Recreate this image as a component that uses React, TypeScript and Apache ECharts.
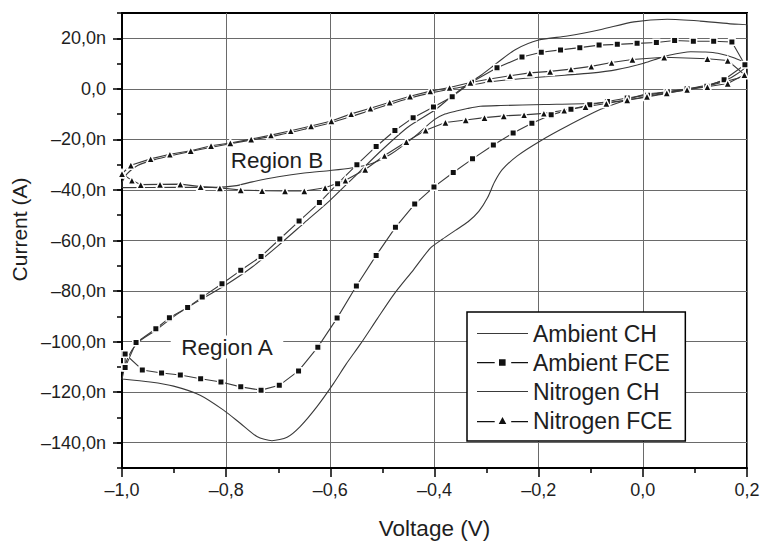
import React, { useEffect, useRef } from 'react';
import * as echarts from 'echarts';

// ---- axis ticks ----
const xMajorTicks = [-1.0, -0.8, -0.6, -0.4, -0.2, 0.0, 0.2];
const yMajorTicks = [-140, -120, -100, -80, -60, -40, -20, 0, 20];

// ---- series: Ambient CH (solid, no markers) ----
const ambientCHVoltage = [
  -1.0, -0.99, -0.97, -0.935, -0.9, -0.85, -0.8, -0.75, -0.7, -0.65, -0.6, -0.55, -0.5, -0.45, -0.4, -0.37,
  -0.337, -0.31, -0.28, -0.245, -0.2, -0.145, -0.08, -0.017, 0.047, 0.11, 0.176, 0.2,
  0.2, 0.17, 0.13, 0.08, 0.03, 0.003, -0.04, -0.081, -0.145, -0.196, -0.241, -0.27, -0.285, -0.298,
  -0.315, -0.335, -0.36, -0.385, -0.408, -0.44, -0.478, -0.51, -0.542, -0.57, -0.594, -0.626, -0.658, -0.683,
  -0.712, -0.741, -0.773, -0.805, -0.85, -0.901, -0.946, -1.0,
];
const ambientCHCurrent = [
  -114.8, -107, -100.5, -95.5, -90, -83.5, -77.5, -70.5, -62, -53, -44, -34, -24, -15, -8.5, -3.5,
  1.7, 5.5, 10.2, 15.5, 19.3, 20.9, 23.5, 26.5, 27.5, 26.8, 25.6, 25.2,
  10, 4.5, 1.8, -0.2, -1.6, -2.2, -5, -8.1, -14.7, -20.5, -26.5, -32, -37, -43,
  -48.5, -52.5, -56, -59.5, -63, -71.5, -81.3, -91, -100.9, -109, -116.6, -125.8, -133.6, -137.8,
  -139.2, -137.5, -132.3, -127.1, -121.2, -117.6, -116, -114.8,
];

// ---- series: Ambient FCE (squares) ----
const ambientFCEVoltage = [
  -0.994, -0.973, -0.935, -0.909, -0.874, -0.846, -0.808, -0.772, -0.733, -0.697, -0.66, -0.621, -0.586, -0.549,
  -0.512, -0.476, -0.441, -0.402, -0.366, -0.329, -0.28, -0.232, -0.195, -0.158, -0.121, -0.084, -0.049, -0.011,
  0.026, 0.061, 0.097, 0.136, 0.171,
  0.196, 0.156, 0.123, 0.085, 0.047, 0.009, -0.03, -0.068, -0.102, -0.138, -0.176, -0.213, -0.249, -0.287,
  -0.327, -0.364, -0.401, -0.438, -0.475, -0.512, -0.55, -0.587, -0.624, -0.661, -0.698, -0.733, -0.772, -0.81,
  -0.849, -0.888, -0.924, -0.961, -0.994, -0.994,
];
const ambientFCECurrent = [
  -110.2, -100.4, -94.9, -90.6, -86.5, -82.4, -77.1, -71.8, -66.3, -59.4, -52.3, -45, -37.5, -30,
  -22.8, -16.5, -11.4, -7.2, -3.1, 2.6, 8.3, 12.6, 14.5, 15.4, 16.3, 17.3, 17.6, 18.0,
  18.3, 19.1, 18.8, 18.8, 18.5,
  9.5, 3.6, 1.0, 0, -1.2, -2.5, -3.6, -5.0, -6.3, -8.1, -10.3, -13.6, -17.5, -22.2,
  -27.7, -33.1, -38.8, -45.6, -54.8, -65.9, -78, -90.7, -102.2, -111.6, -117.3, -119.2, -117.9, -116,
  -114.7, -113.2, -112.4, -111.2, -104.9, -110.2,
];

// ---- series: Nitrogen CH (solid, no markers) ----
const nitrogenCHVoltage = [
  -1.0, -0.99, -0.97, -0.94, -0.9, -0.85, -0.8, -0.75, -0.7, -0.65, -0.6, -0.55, -0.5, -0.45, -0.4, -0.35,
  -0.3, -0.25, -0.2, -0.15, -0.1, -0.05, 0.0, 0.022, 0.05, 0.092, 0.12, 0.144, 0.176, 0.2,
  0.2, 0.16, 0.12, 0.08, 0.04, 0.0, -0.06, -0.106, -0.19, -0.273, -0.312, -0.337, -0.356, -0.38, -0.401,
  -0.44, -0.485, -0.52, -0.56, -0.6, -0.65, -0.7, -0.75, -0.78, -0.82, -0.9, -1.0, -1.0,
];
const nitrogenCHCurrent = [
  -37, -33.5, -30.3, -28.2, -26.2, -24, -22, -20.2, -18.3, -16, -13.5, -10.3, -7, -3.8, -1.3, 0.6,
  2.6, 3.7, 4.6, 5.4, 6.2, 7.6, 10, 11.5, 13.3, 14.7, 14.6, 14.1, 12.2, 9.5,
  6, 3, 1, -0.5, -2, -3.5, -5.2, -5.8, -6.2, -6.6, -6.9, -7.8, -8.7, -10, -12.3,
  -19.2, -26, -29.5, -31.3, -32.3, -33.3, -34.8, -36.8, -38.3, -39, -39, -39.1, -37,
];

// ---- series: Nitrogen FCE (triangles) ----
const nitrogenFCEVoltage = [
  -1.0, -0.983, -0.945, -0.908, -0.868, -0.829, -0.792, -0.752, -0.714, -0.676, -0.637, -0.598, -0.56, -0.523,
  -0.486, -0.447, -0.408, -0.371, -0.331, -0.294, -0.255, -0.217, -0.178, -0.138, -0.099, -0.06, -0.02, 0.041,
  0.124, 0.163,
  0.195, 0.163, 0.124, 0.085, 0.046, 0.008, -0.03, -0.07, -0.11, -0.151, -0.19, -0.228, -0.267, -0.304, -0.34,
  -0.379, -0.417, -0.454, -0.496, -0.533, -0.571, -0.61, -0.65, -0.687, -0.731, -0.772, -0.812, -0.849, -0.888,
  -0.927, -0.964, -0.981, -1.0,
];
const nitrogenFCECurrent = [
  -33.6, -30.2, -27.7, -25.9, -24.5, -22.5, -21.4, -19.9, -18.3, -16.6, -14.7, -12.7, -9.9, -7.7,
  -5.3, -2.9, -0.9, 0.5, 2.5, 3.9, 5.2, 6.3, 6.9, 7.8, 8.9, 10.4, 11.6, 12.5,
  11.9, 11.2,
  5.6, 2.1, 0.8, -0.3, -1.6, -3.0, -4.4, -5.8, -7.1, -8.5, -9.7, -10.3, -10.7, -11.4, -12.3,
  -13.3, -16.4, -20.9, -26.4, -31.9, -36.2, -39.1, -40.4, -40.4, -40.3, -40.0, -39.2, -38.7, -37.7,
  -37.8, -37.9, -36.2, -33.6,
];

const seriesNames = ['Ambient CH', 'Ambient FCE', 'Nitrogen CH', 'Nitrogen FCE'];

const FONT = '"Liberation Sans", Arial, Helvetica, sans-serif';
const TEXT = '#1e1e1e';
const CURVE = '#3a3a3a';

const zip = (xs: number[], ys: number[]) => xs.map((x, i) => [x, ys[i]]);

const fmtX = (v: number) => {
  const s = Math.abs(v).toFixed(1).replace('.', ',');
  return v < -1e-9 ? '\u2013' + s : s;
};
const fmtY = (v: number) => {
  if (Math.abs(v) < 1e-9) return '0,0';
  const s = Math.abs(v).toFixed(1).replace('.', ',') + 'n';
  return v < 0 ? '\u2013' + s : s;
};

const lineIcon = 'path://M0,0H51V1.2H0Z';
const squareIcon = 'path://M0,4.4H17.7V5.6H0Z M22,1.6H28.6V8.2H22Z M34.2,4.4H51V5.6H34.2Z';
const triangleIcon = 'path://M0,5.4H17.7V6.6H0Z M25.5,1.5L29.3,8.4H21.7Z M34.2,5.4H51V6.6H34.2Z';

export default function App() {
  const ref = useRef<HTMLDivElement>(null);

  useEffect(() => {
    document.body.style.margin = '0';
    const chart = echarts.init(ref.current!, null, { renderer: 'svg' });

    const tickLine = { color: '#000', width: 1.5 };
    const gridLine = { color: '#6a6a6a', width: 1 };

    const option: any = {
      animation: false,
      backgroundColor: '#fff',
      textStyle: { fontFamily: FONT },
      grid: {
        left: 122,
        right: 16,
        top: 13,
        bottom: 73,
        show: true,
        borderColor: '#000',
        borderWidth: 2,
        backgroundColor: 'transparent',
      },
      xAxis: {
        type: 'value',
        min: xMajorTicks[0],
        max: xMajorTicks[xMajorTicks.length - 1],
        interval: 0.2,
        axisLine: { show: true, onZero: false, lineStyle: { color: '#000', width: 2 } },
        axisTick: { show: true, length: 9, lineStyle: tickLine },
        minorTick: { show: true, splitNumber: 2, length: 5, lineStyle: tickLine },
        axisLabel: {
          formatter: fmtX,
          margin: 13,
          fontSize: 18,
          color: TEXT,
          fontFamily: FONT,
        },
        splitLine: { show: true, lineStyle: gridLine },
        name: 'Voltage (V)',
        nameLocation: 'middle',
        nameGap: 49,
        nameTextStyle: { fontSize: 22.5, color: TEXT, fontFamily: FONT },
      },
      yAxis: [
        {
          type: 'value',
          min: -150,
          max: 30,
          axisLine: { show: true, onZero: false, lineStyle: { color: '#000', width: 2 } },
          axisTick: { show: true, customValues: yMajorTicks, length: 9, lineStyle: tickLine },
          axisLabel: {
            customValues: yMajorTicks,
            formatter: fmtY,
            margin: 16,
            fontSize: 18,
            color: TEXT,
            fontFamily: FONT,
          },
          splitLine: { show: true, lineStyle: gridLine },
          name: 'Current (A)',
          nameLocation: 'middle',
          nameGap: 90,
          nameTextStyle: { fontSize: 21, color: TEXT, fontFamily: FONT, padding: [0, 0, 0, 22] },
        },
        {
          type: 'value',
          min: -150,
          max: 30,
          interval: 10,
          position: 'left',
          axisLine: { show: false, onZero: false },
          axisTick: { show: true, length: 5, lineStyle: tickLine },
          axisLabel: { show: false },
          splitLine: { show: false },
        },
      ],
      legend: {
        orient: 'vertical',
        left: 467,
        top: 312,
        padding: [10, 13, 9, 10],
        itemWidth: 51,
        itemHeight: 12,
        itemGap: 6,
        backgroundColor: '#fff',
        borderColor: '#000',
        borderWidth: 1.5,
        borderRadius: 0,
        textStyle: { fontSize: 23, lineHeight: 22, color: TEXT, fontFamily: FONT },
        data: [
          { name: seriesNames[0], icon: lineIcon, itemStyle: { color: CURVE, borderWidth: 0 } },
          { name: seriesNames[1], icon: squareIcon, itemStyle: { color: '#111', borderWidth: 0 } },
          { name: seriesNames[2], icon: lineIcon, itemStyle: { color: CURVE, borderWidth: 0 } },
          { name: seriesNames[3], icon: triangleIcon, itemStyle: { color: '#111', borderWidth: 0 } },
        ],
      },
      graphic: [
        {
          type: 'text',
          x: 227,
          y: 347,
          z: 10,
          style: {
            text: 'Region A',
            align: 'center',
            verticalAlign: 'middle',
            fontSize: 22.5,
            fontFamily: FONT,
            fill: TEXT,
            backgroundColor: '#fff',
            padding: [0, 10],
          },
        },
        {
          type: 'text',
          x: 277,
          y: 160,
          z: 10,
          style: {
            text: 'Region B',
            align: 'center',
            verticalAlign: 'middle',
            fontSize: 22.5,
            fontFamily: FONT,
            fill: TEXT,
          },
        },
      ],
      series: [
        {
          name: seriesNames[0],
          type: 'line',
          data: zip(ambientCHVoltage, ambientCHCurrent),
          symbol: 'none',
          smooth: 0.25,
          lineStyle: { color: CURVE, width: 1.1 },
          itemStyle: { color: CURVE },
          z: 2,
        },
        {
          name: seriesNames[2],
          type: 'line',
          data: zip(nitrogenCHVoltage, nitrogenCHCurrent),
          symbol: 'none',
          smooth: 0.25,
          lineStyle: { color: CURVE, width: 1.1 },
          itemStyle: { color: CURVE },
          z: 2,
        },
        {
          name: seriesNames[1],
          type: 'line',
          data: zip(ambientFCEVoltage, ambientFCECurrent),
          symbol: 'rect',
          symbolSize: 6.5,
          showAllSymbol: true,
          lineStyle: { color: CURVE, width: 1.1 },
          itemStyle: { color: '#111', borderColor: '#fff', borderWidth: 1.5 },
          z: 3,
        },
        {
          name: seriesNames[3],
          type: 'line',
          data: zip(nitrogenFCEVoltage, nitrogenFCECurrent),
          symbol: 'triangle',
          symbolSize: 8,
          showAllSymbol: true,
          lineStyle: { color: CURVE, width: 1.1 },
          itemStyle: { color: '#111', borderColor: '#fff', borderWidth: 1.5 },
          z: 3,
        },
      ],
    };

    chart.setOption(option);
    return () => chart.dispose();
  }, []);

  return <div ref={ref} style={{ width: 763, height: 545, background: '#fff' }} />;
}
